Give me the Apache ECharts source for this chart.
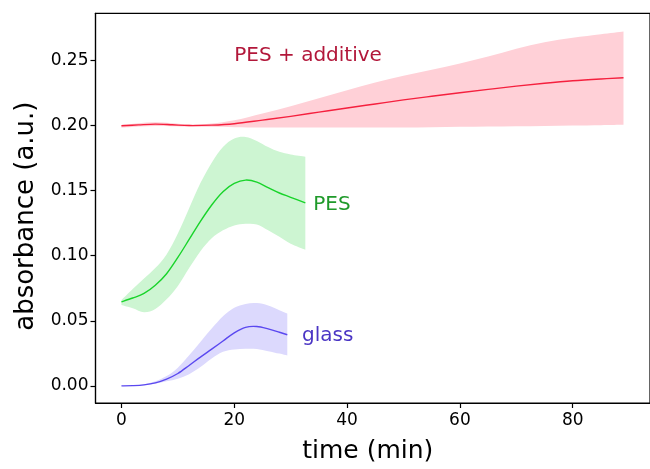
<!DOCTYPE html>
<html>
<head>
<meta charset="utf-8">
<script src="https://cdn.jsdelivr.net/npm/echarts@6/dist/echarts.min.js"></script>
<style>
  html, body { margin: 0; padding: 0; background: #ffffff; }
  #chart { width: 650px; height: 469px; }
</style>
</head>
<body>
<div id="chart"></div>
<script>
// Axis ticks
const xTicks = [0, 20, 40, 60, 80];
const yTicks = [0, 0.05, 0.10, 0.15, 0.20, 0.25];

// PES + additive: mean absorbance with lower / upper envelope
const addTime = [0, 3, 6, 9, 12, 16, 20, 25, 30, 35, 40, 45, 50, 55, 60, 65, 70, 75, 80, 85, 89];
const addMean = [0.1998, 0.2005, 0.2011, 0.2006, 0.2000, 0.2003, 0.2014, 0.2042, 0.2071, 0.2103, 0.2135,
                 0.2166, 0.2197, 0.2225, 0.2252, 0.2278, 0.2303, 0.2325, 0.2344, 0.2358, 0.2367];
const addLow  = [0.1983, 0.1992, 0.1997, 0.1995, 0.1992, 0.1990, 0.1988, 0.1986, 0.1985, 0.1985, 0.1985,
                 0.1985, 0.1986, 0.1988, 0.1990, 0.1992, 0.1995, 0.1997, 0.2000, 0.2003, 0.2006];
const addHigh = [0.2005, 0.2018, 0.2025, 0.2018, 0.2008, 0.2015, 0.2040, 0.2093, 0.2148, 0.2210, 0.2272,
                 0.2330, 0.2383, 0.2428, 0.2477, 0.2530, 0.2590, 0.2640, 0.2675, 0.2702, 0.2723];

// PES
const pesTime = [0, 2, 4, 6, 8, 10, 12, 14, 16, 18, 20, 22, 24, 26, 28, 30, 32.6];
const pesMean = [0.0646, 0.0675, 0.0710, 0.0773, 0.0862, 0.0987, 0.1125, 0.1264, 0.1390, 0.1492, 0.1555,
                 0.1581, 0.1566, 0.1523, 0.1482, 0.1449, 0.1406];
const pesLow  = [0.0621, 0.0596, 0.0565, 0.0590, 0.0665, 0.0768, 0.0905, 0.1035, 0.1135, 0.1195, 0.1233,
                 0.1245, 0.1240, 0.1195, 0.1145, 0.1092, 0.1046];
const pesHigh = [0.0660, 0.0745, 0.0825, 0.0905, 0.1010, 0.1170, 0.1365, 0.1558, 0.1715, 0.1835, 0.1900,
                 0.1912, 0.1882, 0.1835, 0.1798, 0.1778, 0.1761];

// glass
const glassTime = [0, 2, 4, 6, 8, 10, 12, 14, 16, 18, 20, 22, 24, 26, 28, 29.4];
const glassMean = [0.0000, 0.0002, 0.0008, 0.0023, 0.0052, 0.0095, 0.0157, 0.0221, 0.0282, 0.0345, 0.0408,
                   0.0450, 0.0456, 0.0438, 0.0412, 0.0393];
const glassLow  = [0.0000, 0.0001, 0.0006, 0.0017, 0.0035, 0.0055, 0.0090, 0.0145, 0.0210, 0.0262, 0.0280,
                   0.0285, 0.0283, 0.0267, 0.0248, 0.0233];
const glassHigh = [0.0000, 0.0003, 0.0012, 0.0035, 0.0075, 0.0140, 0.0235, 0.0338, 0.0440, 0.0535, 0.0600,
                   0.0630, 0.0636, 0.0618, 0.0582, 0.0557];

// Annotation labels: [text, x, y] in data units (left edge, baseline)
const labelAdd   = ['PES + additive', 20, 0.25];
const labelPes   = ['PES', 34, 0.135];
const labelGlass = ['glass', 32, 0.035];

const FONT = 'DejaVu Sans';

const chart = echarts.init(document.getElementById('chart'), null, { renderer: 'canvas' });

function pairs(t, v) { return t.map((x, i) => [x, v[i]]); }

// Catmull-Rom segments (as cubic Béziers) through pixel points; returns path commands
function curveCommands(pts) {
  let d = '';
  for (let i = 0; i < pts.length - 1; i++) {
    const p0 = pts[Math.max(i - 1, 0)], p1 = pts[i], p2 = pts[i + 1], p3 = pts[Math.min(i + 2, pts.length - 1)];
    const c1x = p1[0] + (p2[0] - p0[0]) / 6, c1y = p1[1] + (p2[1] - p0[1]) / 6;
    const c2x = p2[0] - (p3[0] - p1[0]) / 6, c2y = p2[1] - (p3[1] - p1[1]) / 6;
    d += ' C' + c1x + ' ' + c1y + ' ' + c2x + ' ' + c2y + ' ' + p2[0] + ' ' + p2[1];
  }
  return d;
}

// Shaded envelope between the lower and upper readings
function band(id, t, lo, hi, fill) {
  return {
    type: 'custom', name: id + '-band', silent: true, z: 1,
    data: t.map((x, i) => [x, lo[i], hi[i]]),
    encode: { x: 0, y: [1, 2] },
    renderItem: function (params, api) {
      if (params.dataIndex !== 0) return null;
      const up = t.map((x, i) => api.coord([x, hi[i]]));
      const dn = t.map((x, i) => api.coord([x, lo[i]])).reverse();
      let d = 'M' + up[0][0] + ' ' + up[0][1] + curveCommands(up);
      d += ' L' + dn[0][0] + ' ' + dn[0][1] + curveCommands(dn) + ' Z';
      return { type: 'path', shape: { pathData: d }, style: { fill: fill, stroke: null } };
    }
  };
}

// Mean curve drawn with the same spline
function meanLine(id, t, m, color) {
  return {
    type: 'custom', name: id, silent: true, z: 3,
    data: pairs(t, m),
    encode: { x: 0, y: 1 },
    renderItem: function (params, api) {
      if (params.dataIndex !== 0) return null;
      const pts = t.map((x, i) => api.coord([x, m[i]]));
      const d = 'M' + pts[0][0] + ' ' + pts[0][1] + curveCommands(pts);
      return { type: 'path', shape: { pathData: d }, style: { fill: null, stroke: color, lineWidth: 1.4 } };
    }
  };
}

const COLORS = {
  add:   { line: '#f5203e', fill: '#ffd0d7', text: '#b2173a' },
  pes:   { line: '#18d42a', fill: '#cdf5d2', text: '#1f9a2a' },
  glass: { line: '#5a48f0', fill: '#dcd9fd', text: '#4a35c4' }
};

const axisLineStyle = { color: '#000', width: 1.2 };

chart.setOption({
  animation: false,
  backgroundColor: '#ffffff',
  grid: {
    left: 95.5, top: 13.3, width: 557.5, height: 394,
    show: true, borderColor: '#000', borderWidth: 1.2, backgroundColor: 'transparent'
  },
  xAxis: {
    type: 'value', min: -4.6, max: 93.7,
    axisLine: { show: true, onZero: false, lineStyle: axisLineStyle },
    axisTick: { show: true, length: 5, customValues: xTicks, lineStyle: axisLineStyle },
    axisLabel: { customValues: xTicks, fontSize: 17, fontFamily: FONT, color: '#000', margin: 9 },
    splitLine: { show: false },
    name: 'time (min)', nameLocation: 'middle', nameGap: 36,
    nameTextStyle: { fontSize: 25, fontFamily: FONT, color: '#000', padding: [0, 10, 0, 0] }
  },
  yAxis: {
    type: 'value', min: -0.01315, max: 0.28625,
    axisLine: { show: true, onZero: false, lineStyle: axisLineStyle },
    axisTick: { show: true, length: 5, customValues: yTicks, lineStyle: axisLineStyle },
    axisLabel: {
      customValues: yTicks, fontSize: 17, fontFamily: FONT, color: '#000', margin: 7,
      formatter: v => v.toFixed(2)
    },
    splitLine: { show: false },
    name: 'absorbance (a.u.)', nameLocation: 'middle', nameGap: 45, nameRotate: 90,
    nameTextStyle: { fontSize: 26, fontFamily: FONT, color: '#000', padding: [0, 16, 0, 0] }
  },
  series: [
    band('add', addTime, addLow, addHigh, COLORS.add.fill),
    band('pes', pesTime, pesLow, pesHigh, COLORS.pes.fill),
    band('glass', glassTime, glassLow, glassHigh, COLORS.glass.fill),
    meanLine('PES + additive', addTime, addMean, COLORS.add.line),
    meanLine('PES', pesTime, pesMean, COLORS.pes.line),
    meanLine('glass', glassTime, glassMean, COLORS.glass.line)
  ]
});

// Curve labels anchored in data coordinates
function labelText(spec, color) {
  const p = chart.convertToPixel({ gridIndex: 0 }, [spec[1], spec[2]]);
  return {
    type: 'text', x: p[0], y: p[1] - 5, silent: true, z: 10,
    style: {
      text: spec[0], fill: color, font: '20px "' + FONT + '"',
      align: 'left', verticalAlign: 'middle'
    }
  };
}

chart.setOption({
  graphic: [
    labelText(labelAdd, COLORS.add.text),
    labelText(labelPes, COLORS.pes.text),
    labelText(labelGlass, COLORS.glass.text)
  ]
});
</script>
</body>
</html>
